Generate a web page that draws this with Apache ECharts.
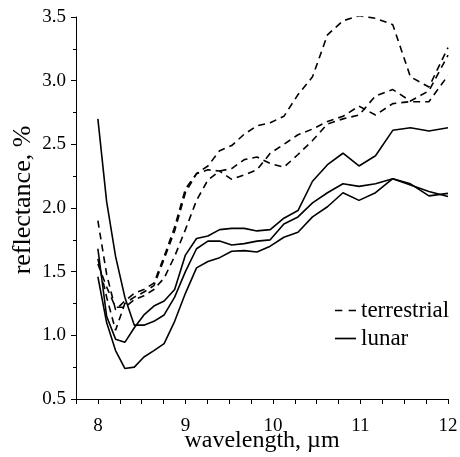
<!DOCTYPE html>
<html><head><meta charset="utf-8">
<script src="https://cdn.jsdelivr.net/npm/echarts@6/dist/echarts.min.js"></script>
<style>html,body{margin:0;padding:0;background:#fff}#c{width:460px;height:457px}</style>
</head><body><div id="c"></div>
<script>
const wavelength = [8.000, 8.100, 8.202, 8.308, 8.416, 8.526, 8.640, 8.757, 8.877, 9.000, 9.127, 9.257, 9.391, 9.529, 9.672, 9.818, 9.969, 10.125, 10.286, 10.452, 10.623, 10.800, 10.983, 11.172, 11.369, 11.571, 11.782, 12.000];
const terrestrial1 = [1.90,1.48,1.20,1.27,1.33,1.36,1.41,1.62,1.85,2.15,2.27,2.33,2.45,2.49,2.58,2.645,2.67,2.72,2.89,3.03,3.36,3.47,3.51,3.49,3.44,3.03,2.95,3.26];
const terrestrial2 = [1.60,1.30,1.04,1.25,1.30,1.34,1.39,1.60,1.82,2.12,2.27,2.30,2.29,2.225,2.26,2.30,2.43,2.50,2.575,2.62,2.68,2.72,2.80,2.73,2.82,2.835,2.835,3.04];
const terrestrial3 = [1.56,1.38,1.22,1.22,1.28,1.31,1.36,1.45,1.62,1.83,2.06,2.22,2.29,2.31,2.38,2.40,2.35,2.32,2.42,2.53,2.66,2.70,2.73,2.88,2.93,2.84,2.92,3.20];
const lunar1 = [1.68,1.15,0.97,0.945,1.06,1.16,1.23,1.27,1.36,1.63,1.76,1.78,1.83,1.84,1.84,1.82,1.83,1.92,1.98,2.21,2.34,2.43,2.33,2.41,2.61,2.63,2.605,2.63];
const lunar2 = [2.70,2.05,1.62,1.30,1.08,1.08,1.11,1.16,1.30,1.50,1.68,1.74,1.74,1.71,1.72,1.74,1.75,1.875,1.93,2.04,2.12,2.19,2.17,2.19,2.23,2.18,2.13,2.09];
const lunar3 = [1.46,1.10,0.88,0.74,0.75,0.83,0.88,0.935,1.11,1.33,1.53,1.58,1.61,1.66,1.665,1.655,1.70,1.77,1.81,1.93,2.01,2.12,2.06,2.12,2.23,2.19,2.095,2.115];
const xTickLabels = ['8','9','10','11','12'];
const yTickLabels = ['0.5','1.0','1.5','2.0','2.5','3.0','3.5'];

const FONT = 'Liberation Serif';
const pairs = ys => wavelength.map((x, i) => [x, ys[i]]);
const dashed = { color: '#000', width: 1.6, type: [7, 5] };
const solid = { color: '#000', width: 1.6, type: 'solid' };
function mk(name, ys, ls) {
  return { name, type: 'line', data: pairs(ys), symbol: 'none', lineStyle: ls, itemStyle: { color: '#000' }, animation: false, z: 3 };
}
const chart = echarts.init(document.getElementById('c'));
chart.setOption({
  backgroundColor: '#fff',
  animation: false,
  grid: { left: 76, right: 12, top: 17, bottom: 58, containLabel: false, outerBoundsMode: 'none' },
  xAxis: {
    type: 'value', min: 7.75, max: 12, interval: 0.25,
    name: 'wavelength, µm', nameLocation: 'middle', nameGap: 30, nameMoveOverlap: false,
    nameTextStyle: { fontFamily: FONT, fontSize: 24, color: '#000' },
    axisLine: { lineStyle: { color: '#000', width: 1 } },
    axisTick: { inside: false, length: 5, lineStyle: { color: '#000', width: 1 } },
    axisLabel: { margin: 18, fontFamily: FONT, fontSize: 19, color: '#000',
      formatter: v => { const s = String(Math.round(v)); return (Math.abs(v - Math.round(v)) < 1e-6 && xTickLabels.includes(s)) ? s : ''; } },
    splitLine: { show: false }
  },
  yAxis: {
    type: 'value', min: 0.5, max: 3.5, interval: 0.5,
    name: 'reflectance, %', nameLocation: 'middle', nameGap: 40, nameRotate: 90, nameMoveOverlap: false,
    nameTextStyle: { fontFamily: FONT, fontSize: 26, color: '#000', padding: [0, 0, 0, 16] },
    axisLine: { show: true, lineStyle: { color: '#000', width: 1 } },
    axisTick: { show: true, length: 5, lineStyle: { color: '#000', width: 1 } },
    minorTick: { show: true, splitNumber: 2, length: 3, lineStyle: { color: '#000', width: 1 } },
    axisLabel: { margin: 10, fontFamily: FONT, fontSize: 19, color: '#000',
      formatter: v => yTickLabels[Math.round((v - 0.5) / 0.5)] },
    splitLine: { show: false }, minorSplitLine: { show: false }
  },
  legend: {
    orient: 'vertical', left: 330, top: 294, itemWidth: 21, itemHeight: 10, itemGap: 5,
    textStyle: { fontFamily: FONT, fontSize: 23, color: '#000' },
    data: [
      { name: 'terrestrial', icon: 'path://M0,0 L7,0 L7,1.6 L0,1.6 Z M13,0 L20,0 L20,1.6 L13,1.6 Z' },
      { name: 'lunar', icon: 'path://M0,0 L20,0 L20,1.6 L0,1.6 Z' }
    ],
    itemStyle: { color: '#000' }, lineStyle: { width: 0 }
  },
  series: [
    mk('terrestrial', terrestrial1, dashed),
    mk('terrestrial', terrestrial2, dashed),
    mk('terrestrial', terrestrial3, dashed),
    mk('lunar', lunar1, solid),
    mk('lunar', lunar2, solid),
    mk('lunar', lunar3, solid)
  ]
});
</script></body></html>
